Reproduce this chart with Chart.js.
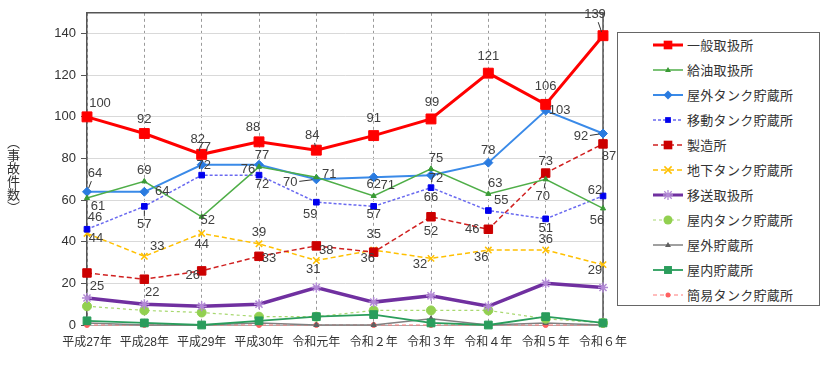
<!DOCTYPE html>
<html>
<head>
<meta charset="utf-8">
<script src="https://cdn.jsdelivr.net/npm/chart.js@4/dist/chart.umd.min.js"></script>
<style>
  html,body{margin:0;padding:0;background:#fff;}
  #wrap{position:relative;width:830px;height:378px;overflow:hidden;}
  #c{position:absolute;left:0;top:0;}
  #ytitle{position:absolute;left:4px;top:136px;writing-mode:vertical-rl;font:13px 'Noto Sans CJK JP',sans-serif;color:#333;letter-spacing:0px;}
  #legend{position:absolute;left:617px;top:32px;width:203px;height:274px;border:1.5px solid #666;box-sizing:border-box;background:#fff;}
  .row{position:absolute;left:0;height:20px;display:flex;align-items:center;}
  .row svg{position:absolute;left:35px;top:3px;}
  .row span{position:absolute;left:69px;top:0;white-space:nowrap;font:13px 'Noto Sans CJK JP',sans-serif;line-height:20px;color:#333;letter-spacing:0.3px;}
</style>
</head>
<body>
<div id="wrap">
  <canvas id="c" width="830" height="378"></canvas>
  <div id="ytitle">（事故件数）</div>
  <div id="legend"></div>
</div>
<script>
// ---- data ----
const categories = ['平成27年','平成28年','平成29年','平成30年','令和元年','令和２年','令和３年','令和４年','令和５年','令和６年'];
const seriesNames = ['一般取扱所','給油取扱所','屋外タンク貯蔵所','移動タンク貯蔵所','製造所','地下タンク貯蔵所','移送取扱所','屋内タンク貯蔵所','屋外貯蔵所','屋内貯蔵所','簡易タンク貯蔵所'];
const ippan      = [100, 92, 82, 88, 84, 91, 99, 121, 106, 139];
const kyuyu      = [61, 69, 52, 76, 71, 62, 75, 63, 70, 56];
const okugaiTank = [64, 64, 77, 77, 70, 71, 72, 78, 103, 92];
const idoTank    = [46, 57, 72, 72, 59, 57, 66, 55, 51, 62];
const seizo      = [25, 22, 26, 33, 38, 35, 52, 46, 73, 87];
const chikaTank  = [44, 33, 44, 39, 31, 36, 32, 36, 36, 29];
const iso        = [13, 10, 9, 10, 18, 11, 14, 9, 20, 18];
const okunaiTank = [9, 7, 6, 4, 4, 7, 7, 7, 3, 1];
const okugai     = [1, 0, 0, 1, 0, 0, 3, 0, 1, 0];
const okunai     = [2, 1, 0, 2, 4, 5, 1, 0, 4, 1];
const kanni      = [0, 0, 0, 0, 0, 0, 0, 0, 0, 0];
const yTicks = {min: 0, max: 150, step: 20};

// ---- styles (not data) ----
const styles = [
  {color:'#ff0000', pcolor:'#ff0000', width:3,   dash:[],    pstyle:'rect',     r:7},
  {color:'#4fae48', pcolor:'#3a9a35', width:1.5, dash:[],    pstyle:'triangle', r:3},
  {color:'#3a8ae8', pcolor:'#2a7be0', width:2,   dash:[],    pstyle:'rectRot',  r:4.5},
  {color:'#6a6af0', pcolor:'#0000ee', width:1.5, dash:[3,2], pstyle:'rect',     r:4},
  {color:'#d02020', pcolor:'#cc0000', width:1.5, dash:[5,3], pstyle:'rect',     r:6},
  {color:'#ffc000', pcolor:'#ffc000', width:1.5, dash:[5,3], pstyle:'crossRot', r:4.5},
  {color:'#7030a0', pcolor:'#b38ad6', width:3.5, dash:[],    pstyle:'star',     r:5},
  {color:'#a8d870', pcolor:'#92d050', width:1.2, dash:[3,3], pstyle:'circle',   r:4.5},
  {color:'#808080', pcolor:'#606060', width:1.5, dash:[],    pstyle:'triangle', r:3},
  {color:'#2a9d5c', pcolor:'#2a9d5c', width:1.8, dash:[],    pstyle:'rect',     r:5.5},
  {color:'#ff7b7b', pcolor:'#ff6060', width:1.2, dash:[4,3], pstyle:'circle',   r:2.5}
];
// label offsets [dx, dy, leader]
const labelOffsets = [
  [[13,-13],[0,-14],[-4,-15],[-6,-14],[-4,-15,1],[0,-17],[1,-17],[0,-17],[0,-18],[-8,-21,1]],
  [[11,8],[0,-11],[6,4],[-11,3],[13,-3],[0,-12],[5,-10],[7,-10],[-3,17,1],[-6,12]],
  [[8,-18,1],[18,0],[2,-17],[3,-9],[-26,3,1],[14,8],[5,3],[0,-12],[14,0],[-22,3,1]],
  [[8,-12],[0,18,1],[2,-10],[3,9],[-6,12],[0,8],[0,10],[13,-10],[0,10],[-8,-6]],
  [[10,13],[8,13],[-9,5],[10,2],[10,5],[0,-18],[0,15],[-16,0],[0,-12],[6,12]],
  [[9,5],[13,-10],[0,11],[0,-11],[-3,9],[-6,8],[-11,6],[-7,7],[0,-11],[-8,6]]
];

const allSeries = [ippan,kyuyu,okugaiTank,idoTank,seizo,chikaTank,iso,okunaiTank,okugai,okunai,kanni];
const numFont = "'Liberation Sans Narrow','Liberation Sans','Noto Sans CJK JP',sans-serif";

const datasets = allSeries.map((vals,i)=>{
  const s = styles[i];
  return {
    label: seriesNames[i],
    data: vals,
    borderColor: s.color,
    backgroundColor: s.pcolor,
    borderWidth: s.width,
    borderDash: s.dash,
    pointStyle: s.pstyle,
    pointRadius: s.r,
    pointBackgroundColor: s.pcolor,
    pointBorderColor: s.pcolor,
    pointBorderWidth: (s.pstyle==='crossRot'||s.pstyle==='star')?1.5:1,
    tension: 0,
    clip: false,
    order: i === 9 ? -1 : 0
  };
});

const labelPlugin = {
  id:'labels',
  afterDatasetsDraw(chart){
    const ctx = chart.ctx;
    ctx.save();
    ctx.font = "13px " + numFont;
    ctx.fillStyle = '#404040';
    ctx.textAlign = 'center';
    ctx.textBaseline = 'middle';
    labelOffsets.forEach((offs,di)=>{
      const meta = chart.getDatasetMeta(di);
      meta.data.forEach((pt,i)=>{
        const o = offs[i];
        const lx = pt.x + o[0], ly = pt.y + o[1];
        ctx.fillText(String(allSeries[di][i]), lx, ly);
        if (o[2]) {
          const vx = pt.x - lx, vy = pt.y - ly;
          const d = Math.hypot(vx,vy);
          if (d > 12) {
            const ux = vx/d, uy = vy/d;
            ctx.strokeStyle = '#333';
            ctx.lineWidth = 1;
            ctx.beginPath();
            ctx.moveTo(lx + ux*9, ly + uy*8);
            ctx.lineTo(pt.x - ux*4, pt.y - uy*4);
            ctx.stroke();
          }
        }
      });
    });
    ctx.restore();
  }
};

const framePlugin = {
  id:'frame',
  beforeDatasetsDraw(chart){
    const {ctx, chartArea:a} = chart;
    ctx.save();
    ctx.strokeStyle = '#555';
    ctx.lineWidth = 1.5;
    ctx.beginPath();
    ctx.moveTo(a.left, a.top);
    ctx.lineTo(a.right, a.top);
    ctx.lineTo(a.right, a.bottom);
    ctx.stroke();
    ctx.restore();
  }
};

new Chart(document.getElementById('c'), {
  type:'line',
  data:{labels:categories, datasets},
  plugins:[framePlugin, labelPlugin],
  options:{
    responsive:false,
    animation:false,
    layout:{padding:{left:27, right:227, top:8, bottom:0}},
    plugins:{legend:{display:false}, tooltip:{enabled:false}},
    scales:{
      x:{
        offset:false,
        grid:{color:'#9a9a9a', drawTicks:false, lineWidth:1},
        border:{display:true, color:'#aaa', dash:[3,3]},
        ticks:{padding:10, color:'#333', font:{size:12, family:numFont}, maxRotation:0, autoSkip:false},
        afterFit(s){ s.height = 53; }
      },
      y:{
        min:yTicks.min, max:yTicks.max,
        ticks:{stepSize:yTicks.step, includeBounds:false, padding:5, color:'#333', font:{size:13, family:numFont}},
        grid:{color:'#d9d9d9', tickLength:6, tickColor:'#555'},
        border:{display:true, color:'#555', width:1.5},
        afterFit(s){ s.width = 60; }
      }
    }
  }
});

// ---- HTML legend ----
function markerSVG(st, x, y){
  const c = st.pcolor;
  const r = Math.min(st.r, 6);
  switch(st.pstyle){
    case 'rect': { const h = r*0.72; return `<rect x="${x-h}" y="${y-h}" width="${2*h}" height="${2*h}" fill="${c}"/>`; }
    case 'triangle': return `<polygon points="${x},${y-r} ${x-r},${y+r*0.7} ${x+r},${y+r*0.7}" fill="${c}"/>`;
    case 'rectRot': return `<polygon points="${x},${y-r} ${x+r},${y} ${x},${y+r} ${x-r},${y}" fill="${c}"/>`;
    case 'crossRot': { const h=r*0.8; return `<path d="M${x-h} ${y-h}L${x+h} ${y+h}M${x+h} ${y-h}L${x-h} ${y+h}" stroke="${c}" stroke-width="1.5"/>`; }
    case 'star': { const h=r*0.75; return `<path d="M${x-h} ${y-h}L${x+h} ${y+h}M${x+h} ${y-h}L${x-h} ${y+h}M${x} ${y-r}L${x} ${y+r}M${x-r} ${y}L${x+r} ${y}" stroke="${c}" stroke-width="1.3"/>`; }
    case 'circle': return `<circle cx="${x}" cy="${y}" r="${r}" fill="${c}"/>`;
  }
  return '';
}
const lg = document.getElementById('legend');
seriesNames.forEach((n,i)=>{
  const st = styles[i];
  const row = document.createElement('div');
  row.className = 'row';
  row.style.top = (2 + 25*i) + 'px';
  row.style.width = '200px';
  const dash = st.dash.length ? `stroke-dasharray="${st.dash.join(',')}"` : '';
  row.innerHTML = `<svg width="30" height="14" viewBox="0 0 30 14"><line x1="0" y1="7" x2="30" y2="7" stroke="${st.color}" stroke-width="${Math.min(st.width,3)}" ${dash}/>${markerSVG(st,15,7)}</svg><span>${n}</span>`;
  lg.appendChild(row);
});
</script>
</body>
</html>
